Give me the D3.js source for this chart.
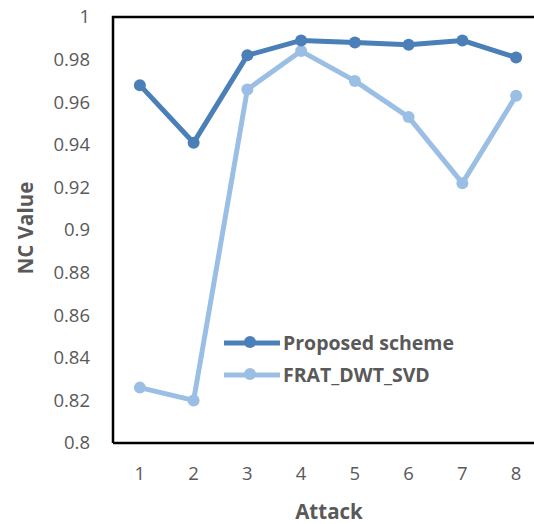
<!DOCTYPE html>
<html><head><meta charset="utf-8">
<script src="https://cdn.jsdelivr.net/npm/d3@7"></script>
<style>body{margin:0;background:#fff;}svg{display:block;}</style>
</head><body>
<svg id="c" width="534" height="524"></svg>
<script>
const categories = ["1","2","3","4","5","6","7","8"];
const proposed = [0.968, 0.941, 0.982, 0.989, 0.988, 0.987, 0.989, 0.981];
const frat = [0.826, 0.820, 0.966, 0.984, 0.970, 0.953, 0.922, 0.963];
const yTicks = [0.8, 0.82, 0.84, 0.86, 0.88, 0.9, 0.92, 0.94, 0.96, 0.98, 1];
const seriesNames = ["Proposed scheme", "FRAT_DWT_SVD"];
const seriesColors = ["#4a7fb8", "#9bbfe4"];

(function () {
const svg = d3.select("#c");
const pl = 113, pr = 543, pt = 17, pb = 443;
const x = d3.scaleBand().domain(categories).range([pl, pr]);
const y = d3.scaleLinear().domain([0.8, 1]).range([pb, pt]);
const font = "'Open Sans', 'Noto Sans', sans-serif";

const yAxis = d3.axisLeft(y).tickValues(yTicks).tickSize(0).tickPadding(23)
  .tickFormat(d => String(+d.toFixed(2)));
const gy = svg.append("g").attr("transform", `translate(${pl},0)`).call(yAxis);
gy.select(".domain").remove();
gy.selectAll("text").attr("font-family", font).attr("font-size", 18.5).attr("fill", "#595959");

const xAxis = d3.axisBottom(x).tickSize(0).tickPadding(24);
const gx = svg.append("g").attr("transform", `translate(0,${pb})`).call(xAxis);
gx.select(".domain").remove();
gx.selectAll("text").attr("font-family", font).attr("font-size", 18.5).attr("fill", "#595959");

svg.append("path")
  .attr("d", `M${pl},${pb}H${534}M${pl},${pb}V${pt}H${534}`)
  .attr("fill", "none").attr("stroke", "#000").attr("stroke-width", 2.5);

const data = [proposed, frat];
const line = d3.line().x((d, i) => x(categories[i]) + x.bandwidth() / 2).y(d => y(d));
[1, 0].forEach(s => {
  svg.append("path").datum(data[s]).attr("d", line)
    .attr("fill", "none").attr("stroke", seriesColors[s]).attr("stroke-width", 5)
    .attr("stroke-linejoin", "round");
  svg.selectAll(null).data(data[s]).enter().append("circle")
    .attr("cx", (d, i) => x(categories[i]) + x.bandwidth() / 2)
    .attr("cy", d => y(d)).attr("r", 6).attr("fill", seriesColors[s]);
});

seriesNames.forEach((n, i) => {
  const ly = 343 + i * 32;
  svg.append("line").attr("x1", 224).attr("x2", 280).attr("y1", ly).attr("y2", ly)
    .attr("stroke", seriesColors[i]).attr("stroke-width", 5);
  svg.append("circle").attr("cx", 250).attr("cy", ly - 1).attr("r", 6).attr("fill", seriesColors[i]);
  svg.append("text").attr("x", 283).attr("y", ly + 7).text(n)
    .attr("font-family", font).attr("font-weight", "bold").attr("font-size", 19.5).attr("fill", "#595959");
});

svg.append("text").attr("x", 329).attr("y", 519).attr("text-anchor", "middle").text("Attack")
  .attr("font-family", font).attr("font-weight", "bold").attr("font-size", 20.5).attr("fill", "#595959");
svg.append("text").attr("transform", "translate(33,228) rotate(-90)").attr("text-anchor", "middle").text("NC Value")
  .attr("font-family", font).attr("font-weight", "bold").attr("font-size", 20.5).attr("fill", "#595959");
})();
</script>
</body></html>
